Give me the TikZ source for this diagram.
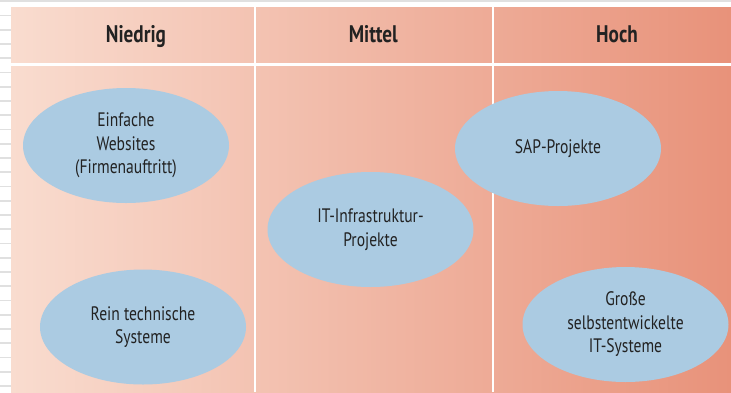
\documentclass[tikz,border=0pt]{standalone}
\usepackage{fontspec}
\setmainfont{PT Sans}[FakeStretch=0.8]
\usepackage{xcolor}
\definecolor{riskpale}{HTML}{F9DCCF}
\definecolor{riskdeep}{HTML}{E8927A}
\definecolor{topicblue}{HTML}{ABCBE2}
\definecolor{inkgray}{HTML}{222222}
\definecolor{ruleline}{HTML}{E0E0E0}
\usetikzlibrary{shapes.geometric}
\tikzset{
  colhead/.style ={font=\fontsize{24}{28}\selectfont\bfseries, text=inkgray,
                   inner sep=0pt, anchor=base},
  topic/.style   ={ellipse, fill=topicblue, draw=none, minimum width=206pt,
                   minimum height=115pt, inner sep=0pt, align=center, text=inkgray,
                   font=\fontsize{19.5}{23.5}\selectfont},
  sepline/.style ={white, line width=2.2pt},
  paperline/.style={ruleline, line width=1.6pt},
}

\begin{document}
\begin{tikzpicture}[x=1pt, y=-1pt]
  \useasboundingbox (0,0) rectangle (731,392);
  % ruled paper behind the panel
  \draw[paperline] (0,1.2) -- (731,1.2);
  \foreach \i in {1,...,27}
    \draw[paperline] (0,{1.2+14.25*\i}) -- (11,{1.2+14.25*\i});
  % panel with gradient
  \shade[left color=riskpale, right color=riskdeep] (11,7) rectangle (731,392);
  \draw[sepline] (255,7) -- (255,392);
  \draw[sepline] (493,7) -- (493,392);
  \draw[sepline] (11,64.5) -- (731,64.5);

  \node[colhead] (hNiedrig) at (136,42.7) {Niedrig};
  \node[colhead] (hMittel)  at (373.3,42.7) {Mittel};
  \node[colhead] (hHoch)    at (617,42.7) {Hoch};

  \node[topic] (eWeb)   at (126,145.5) {Einfache\\Websites\\(Firmenauftritt)};
  \node[topic] (eTech)  at (143,327) {Rein technische\\Systeme};
  \node[topic] (eInfra) at (370.5,229.5) {IT-Infrastruktur-\\Projekte};
  \node[topic] (eSAP)   at (558,148.5) {SAP-Projekte};
  \node[topic] (eGross) at (625.5,324.5) {Große\\selbstentwickelte\\IT-Systeme};
\end{tikzpicture}
\end{document}
